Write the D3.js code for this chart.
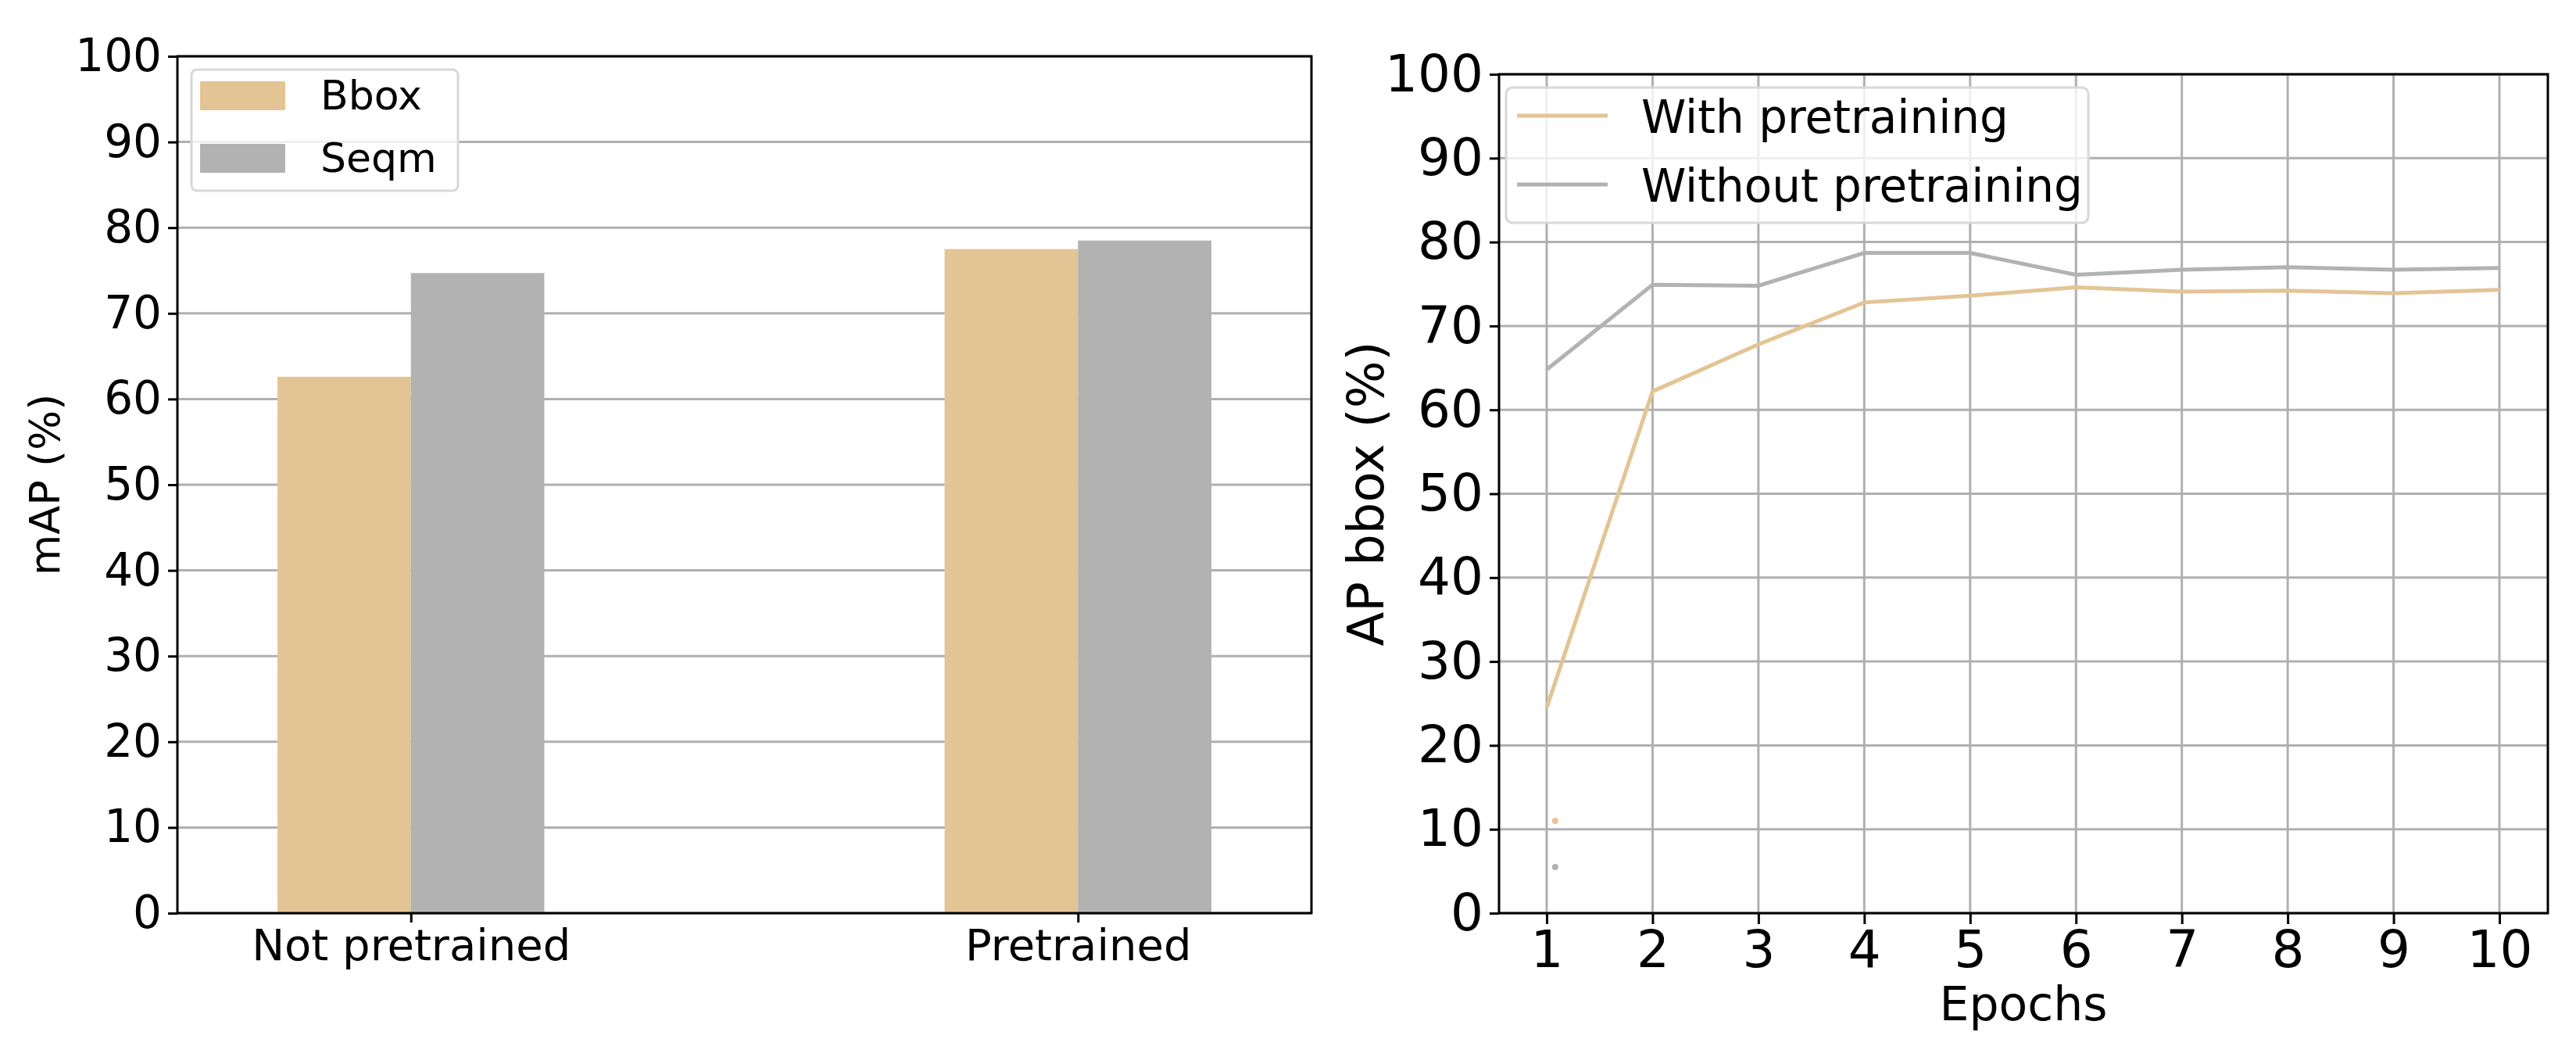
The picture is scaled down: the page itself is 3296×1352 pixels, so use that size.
<!DOCTYPE html>
<html><head><meta charset="utf-8">
<script src="https://cdn.jsdelivr.net/npm/d3@7"></script>
<style>body{margin:0;background:#fff}text{font-family:"DejaVu Sans",sans-serif}</style>
</head><body><div id="chart"></div>
<script>
// left: grouped bars
const groups = ["Not pretrained", "Pretrained"];
const barSeries = ["Bbox", "Seqm"];
const bboxValues = [62.6, 77.5];
const seqmValues = [74.7, 78.5];
// right: lines over epochs
const epochs = [1, 2, 3, 4, 5, 6, 7, 8, 9, 10];
const withPre = [24.5, 62.2, 67.8, 72.8, 73.6, 74.6, 74.1, 74.2, 73.9, 74.3];
const withoutPre = [64.8, 74.9, 74.8, 78.7, 78.7, 76.1, 76.7, 77.0, 76.7, 76.9];
const strayDots = [{ x: 1.08, y: 11, c: 0 }, { x: 1.08, y: 5.5, c: 1 }];
const yTicks = [0, 10, 20, 30, 40, 50, 60, 70, 80, 90, 100];

const colors = ["#e3c494", "#b2b2b2"];
const svg = d3.select("#chart").append("svg").attr("width", 3296).attr("height", 1352);

// ---- left panel
var L = { x0: 227, x1: 1678, y0: 72, y1: 1168 };
var yL = d3.scaleLinear().domain([0, 100]).range([L.y1, L.y0]);
var xL = d3.scaleLinear().domain([-0.35, 1.35]).range([L.x0, L.x1]);
var bw = 0.2;
const gl = svg.append("g");
gl.selectAll(".grid").data(yTicks).enter().append("line")
  .attr("x1", L.x0).attr("x2", L.x1).attr("y1", d => yL(d)).attr("y2", d => yL(d))
  .attr("stroke", "#b0b0b0").attr("stroke-width", 3);
[bboxValues, seqmValues].forEach((vals, s) => {
  gl.selectAll(".b" + s).data(vals).enter().append("rect")
    .attr("x", (d, i) => xL(i + (s - 1) * bw))
    .attr("width", xL(bw) - xL(0))
    .attr("y", d => yL(d)).attr("height", d => yL(0) - yL(d))
    .attr("fill", colors[s]);
});
gl.append("g").attr("transform", `translate(${L.x0},0)`)
  .call(d3.axisLeft(yL).tickValues(yTicks).tickSize(12).tickPadding(8))
  .call(a => a.selectAll("text").attr("font-size", 58).attr("fill", "#000"));
gl.append("g").attr("transform", `translate(0,${L.y1})`)
  .call(d3.axisBottom(xL).tickValues([0, 1]).tickFormat(i => groups[i]).tickSize(12).tickPadding(8))
  .call(a => a.selectAll("text").attr("font-size", 56).attr("fill", "#000"));
gl.selectAll(".domain").remove();
gl.append("rect").attr("x", L.x0).attr("y", L.y0).attr("width", L.x1 - L.x0).attr("height", L.y1 - L.y0)
  .attr("fill", "none").attr("stroke", "#000").attr("stroke-width", 3);
gl.append("text").text("mAP (%)").attr("font-size", 54)
  .attr("transform", `translate(76,${(L.y0 + L.y1) / 2}) rotate(-90)`).attr("text-anchor", "middle");
const lgL = gl.append("g");
lgL.append("rect").attr("x", 245).attr("y", 89).attr("width", 341).attr("height", 155).attr("rx", 7)
  .attr("fill", "rgba(255,255,255,0.8)").attr("stroke", "#d8d8d8").attr("stroke-width", 3);
barSeries.forEach((n, i) => {
  lgL.append("rect").attr("x", 256).attr("y", 104 + i * 80).attr("width", 109).attr("height", 37).attr("fill", colors[i]);
  lgL.append("text").text(n).attr("x", 410).attr("y", 122 + i * 80).attr("dy", "0.35em").attr("font-size", 52);
});

// ---- right panel
var R = { x0: 1918, x1: 3260, y0: 95, y1: 1168 };
var xR = d3.scaleLinear().domain([1, 10]).range([1979, 3198]);
var yR = d3.scaleLinear().domain([0, 100]).range([R.y1, R.y0]);
const gr = svg.append("g");
gr.selectAll(".gy").data(yTicks).enter().append("line")
  .attr("x1", R.x0).attr("x2", R.x1).attr("y1", d => yR(d)).attr("y2", d => yR(d))
  .attr("stroke", "#b0b0b0").attr("stroke-width", 3);
gr.selectAll(".gx").data(epochs).enter().append("line")
  .attr("x1", d => xR(d)).attr("x2", d => xR(d)).attr("y1", R.y0).attr("y2", R.y1)
  .attr("stroke", "#b0b0b0").attr("stroke-width", 3);
const line = d3.line().x((d, i) => xR(epochs[i])).y(d => yR(d));
[withPre, withoutPre].forEach((vals, s) => {
  gr.append("path").datum(vals).attr("d", line).attr("fill", "none")
    .attr("stroke", colors[s]).attr("stroke-width", 5);
});
gr.selectAll(".dot").data(strayDots).enter().append("circle")
  .attr("cx", d => xR(d.x)).attr("cy", d => yR(d.y)).attr("r", 4).attr("fill", d => colors[d.c]);
gr.append("g").attr("transform", `translate(${R.x0},0)`)
  .call(d3.axisLeft(yR).tickValues(yTicks).tickSize(12).tickPadding(8))
  .call(a => a.selectAll("text").attr("font-size", 66).attr("fill", "#000"));
gr.append("g").attr("transform", `translate(0,${R.y1})`)
  .call(d3.axisBottom(xR).tickValues(epochs).tickSize(14).tickPadding(8))
  .call(a => a.selectAll("text").attr("font-size", 66).attr("fill", "#000"));
gr.selectAll(".domain").remove();
gr.selectAll(".tick line").attr("stroke-width", 3);
gl.selectAll(".tick line").attr("stroke-width", 3);
gr.append("rect").attr("x", R.x0).attr("y", R.y0).attr("width", R.x1 - R.x0).attr("height", R.y1 - R.y0)
  .attr("fill", "none").attr("stroke", "#000").attr("stroke-width", 3);
gr.append("text").text("AP bbox (%)").attr("font-size", 64)
  .attr("transform", `translate(1770,${(R.y0 + R.y1) / 2}) rotate(-90)`).attr("text-anchor", "middle");
gr.append("text").text("Epochs").attr("font-size", 60).attr("x", (R.x0 + R.x1) / 2).attr("y", 1305).attr("text-anchor", "middle");
const lgR = gr.append("g");
lgR.append("rect").attr("x", 1927).attr("y", 112).attr("width", 745).attr("height", 173).attr("rx", 8)
  .attr("fill", "rgba(255,255,255,0.8)").attr("stroke", "#d8d8d8").attr("stroke-width", 3);
["With pretraining", "Without pretraining"].forEach((n, i) => {
  lgR.append("line").attr("x1", 1941).attr("x2", 2057).attr("y1", 148 + i * 88).attr("y2", 148 + i * 88)
    .attr("stroke", colors[i]).attr("stroke-width", 5);
  lgR.append("text").text(n).attr("x", 2100).attr("y", 150 + i * 88).attr("dy", "0.35em").attr("font-size", 58);
});
</script></body></html>
